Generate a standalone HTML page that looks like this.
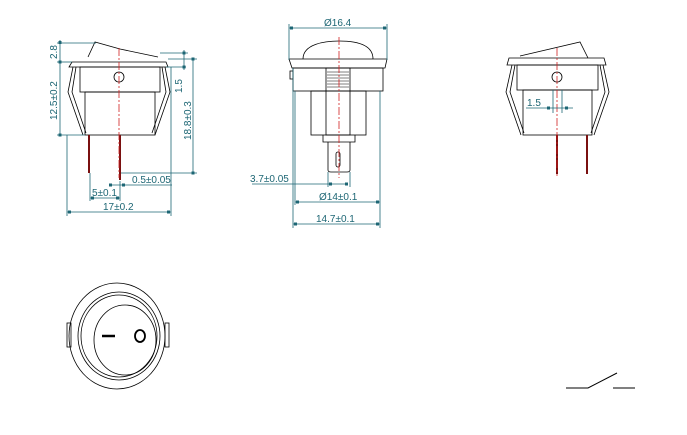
<!DOCTYPE html>
<html><head><meta charset="utf-8"><style>
html,body{margin:0;padding:0;background:#fff;}
svg{display:block;}
text{font-family:"Liberation Sans",sans-serif;font-size:10px;fill:#1d6674;}
</style></head><body>
<svg width="687" height="435" viewBox="0 0 687 435" xmlns="http://www.w3.org/2000/svg">
<g fill="none" stroke="#000" stroke-width="0.8">
<polyline points="88,57 95,42 120,49 158,57"/>
<polygon points="72,62 166,62 168,67 69,67"/>
<rect x="80" y="67" width="80" height="25"/>
<rect x="85" y="92" width="70" height="43"/>
<polyline points="73,67 68,92 83,135"/>
<polyline points="76,67 72,92 86,133"/>
<polyline points="165,67 170,92 155,135"/>
<polyline points="162,67 166,92 152,133"/>
<circle cx="119" cy="77" r="5"/>
<path d="M303,59 C303,44 325,41 339,41 C355,41 373,44 373,59"/>
<polygon points="289,59 387,59 385,68 292,68"/>
<rect x="293" y="68" width="90" height="23"/>
<rect x="290" y="71" width="3" height="8"/>
<rect x="311" y="91" width="55" height="44"/>
<rect x="326" y="68" width="24" height="67"/>
<g stroke-width="0.5"><line x1="327" y1="72" x2="349" y2="72"/><line x1="327" y1="75" x2="349" y2="75"/><line x1="327" y1="78" x2="349" y2="78"/><line x1="327" y1="81" x2="349" y2="81"/><line x1="327" y1="84" x2="349" y2="84"/><line x1="327" y1="87" x2="349" y2="87"/></g>
<polyline points="323,135 323,142 355,142 355,135"/>
<path d="M328,142 L328,170 Q328,172 331,172 L347,172 Q350,172 350,170 L350,142"/>
<rect x="336" y="152" width="4" height="15" rx="2"/>
<polyline points="520,56 580,42 588,58"/>
<polygon points="509,58 604,58 606,65 507,65"/>
<rect x="517" y="65" width="81" height="25"/>
<rect x="523" y="90" width="69" height="45"/>
<polyline points="512,65 506,92 521,135"/>
<polyline points="515,65 510,92 524,133"/>
<polyline points="603,65 609,92 594,135"/>
<polyline points="600,65 605,92 591,133"/>
<circle cx="557" cy="77" r="5"/>
<ellipse cx="117" cy="336" rx="48" ry="53"/>
<ellipse cx="119" cy="336" rx="41" ry="44"/>
<ellipse cx="119" cy="336" rx="38" ry="41"/>
<ellipse cx="125" cy="340" rx="31" ry="35"/>
<rect x="67" y="323" width="4" height="24"/>
<rect x="165" y="323" width="4" height="24"/>
<ellipse cx="140" cy="336" rx="5" ry="6" stroke-width="1.8"/>
<polyline points="566,388 588,388 617,373" stroke-width="1"/>
<line x1="613" y1="388" x2="635" y2="388" stroke-width="1"/>
</g>
<line x1="102" y1="336" x2="115" y2="336" stroke="#000" stroke-width="2.5"/>
<g stroke="#7a1010" stroke-width="2">
<line x1="89" y1="135" x2="89" y2="173"/><line x1="120" y1="135" x2="120" y2="180"/>
<line x1="557" y1="135" x2="557" y2="174"/><line x1="587" y1="135" x2="587" y2="174"/>
</g>
<g stroke="#d02020" stroke-width="0.8" stroke-dasharray="8,2,2,2">
<line x1="119" y1="48" x2="119" y2="178"/>
<line x1="339" y1="37" x2="339" y2="178"/>
<line x1="557" y1="48" x2="557" y2="176"/>
</g>
<g stroke="#1d6674" stroke-width="0.8" fill="none">
<line x1="57" y1="43" x2="96" y2="43"/><line x1="57" y1="62" x2="72" y2="62"/><line x1="57" y1="135" x2="85" y2="135"/>
<line x1="60" y1="40" x2="60" y2="135"/>
<line x1="160" y1="53" x2="188" y2="53"/><line x1="166" y1="67" x2="186" y2="67"/><line x1="168" y1="59" x2="197" y2="59"/>
<line x1="184" y1="50" x2="184" y2="70"/>
<line x1="193" y1="59" x2="193" y2="173"/>
<line x1="121" y1="173" x2="197" y2="173"/>
<line x1="111" y1="185" x2="172" y2="185"/>
<line x1="90" y1="173" x2="90" y2="201"/><line x1="120" y1="181" x2="120" y2="201"/>
<line x1="90" y1="198" x2="120" y2="198"/>
<line x1="67" y1="135" x2="67" y2="216"/><line x1="171" y1="67" x2="171" y2="216"/>
<line x1="67" y1="212" x2="171" y2="212"/>
<line x1="289" y1="24" x2="289" y2="60"/><line x1="387" y1="24" x2="387" y2="60"/>
<line x1="289" y1="28" x2="387" y2="28"/>
<line x1="293" y1="68" x2="293" y2="228"/><line x1="295" y1="91" x2="295" y2="205"/>
<line x1="380" y1="91" x2="380" y2="228"/>
<line x1="295" y1="202" x2="380" y2="202"/>
<line x1="293" y1="224" x2="380" y2="224"/>
<line x1="328" y1="172" x2="328" y2="187"/><line x1="350" y1="172" x2="350" y2="187"/>
<line x1="252" y1="184" x2="348" y2="184"/>
<line x1="553" y1="90" x2="553" y2="113"/><line x1="562" y1="90" x2="562" y2="113"/>
<line x1="526" y1="108" x2="573" y2="108"/>
</g>
<g fill="#1d6674">
<rect x="58.5" y="41" width="3" height="3"/><rect x="58.5" y="60.5" width="3" height="3"/><rect x="58.5" y="133.5" width="3" height="3"/>
<rect x="182.5" y="51.5" width="3" height="3"/><rect x="182.5" y="65.5" width="3" height="3"/>
<rect x="191.5" y="57.5" width="3" height="3"/><rect x="191.5" y="171.5" width="3" height="3"/>
<rect x="109" y="183.5" width="3" height="3"/><rect x="122" y="183.5" width="3" height="3"/>
<rect x="91" y="196.5" width="3" height="3"/><rect x="116" y="196.5" width="3" height="3"/>
<rect x="68" y="210.5" width="3" height="3"/><rect x="167" y="210.5" width="3" height="3"/>
<rect x="290" y="26.5" width="3" height="3"/><rect x="383" y="26.5" width="3" height="3"/>
<rect x="296" y="200.5" width="3" height="3"/><rect x="376" y="200.5" width="3" height="3"/>
<rect x="294" y="222.5" width="3" height="3"/><rect x="376" y="222.5" width="3" height="3"/>
<rect x="329" y="182.5" width="3" height="3"/><rect x="345" y="182.5" width="3" height="3"/>
<rect x="547" y="106.5" width="3" height="3"/><rect x="565" y="106.5" width="3" height="3"/>
</g>
<text transform="translate(57,59) rotate(-90)">2.8</text>
<text transform="translate(57,120) rotate(-90)">12.5±0.2</text>
<text transform="translate(182,93) rotate(-90)">1.5</text>
<text transform="translate(191,140) rotate(-90)">18.8±0.3</text>
<text x="132" y="183">0.5±0.05</text>
<text x="92" y="196">5±0.1</text>
<text x="103" y="210">17±0.2</text>
<text x="324" y="26">Ø16.4</text>
<text x="250" y="182">3.7±0.05</text>
<text x="319" y="200">Ø14±0.1</text>
<text x="316" y="222">14.7±0.1</text>
<text x="527" y="106">1.5</text>
</svg>
</body></html>
